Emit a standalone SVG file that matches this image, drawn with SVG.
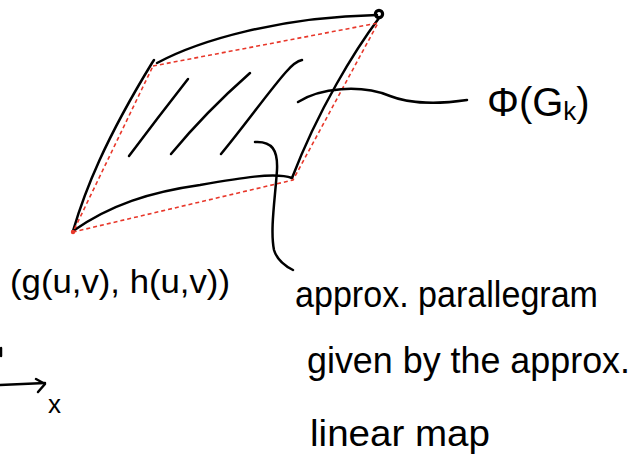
<svg xmlns="http://www.w3.org/2000/svg" width="637" height="459" viewBox="0 0 637 459">
<style>
.ink{fill:none;stroke:#000;stroke-width:2.5;stroke-linecap:round;stroke-linejoin:round}
.red{fill:none;stroke:#e8372a;stroke-width:1.6;stroke-dasharray:4 3}
.lbl{font-family:"Liberation Sans","DejaVu Sans",sans-serif;fill:#000}
</style>
<rect width="637" height="459" fill="#fff"/>
<g id="region">
<path class="ink" d="M157,63 C200,40 280,17 377,15"/>
<path class="ink" d="M379,18 C355,50 318,110 292,178"/>
<path class="ink" d="M73,231 C110,205 150,192 200,185 C240,178 275,172 292,178"/>
<path class="ink" d="M73,231 C85,190 105,140 152,63 L154,60"/>
<path class="ink" d="M129,156 C150,128 170,102 188,79"/>
<path class="ink" d="M171,154 C195,125 225,95 250,73"/>
<path class="ink" d="M221,154 C245,125 270,90 286,72 C292,65 297,61 302,60"/>
<circle cx="379" cy="14" r="3.6" fill="none" stroke="#000" stroke-width="3.2"/>
<circle cx="73" cy="232" r="2.2" fill="#e8372a"/>
</g>
<g id="parallelogram">
<path class="red" d="M153,66 L378,23 L293,180 L73,232 Z"/>
</g>
<g id="connectors">
<path class="ink" d="M298,102 C320,88 360,84 390,96 C410,104 440,104 467,100"/>
<path class="ink" d="M255,142 C272,141 278,150 277,170 C275,200 270,230 274,250 C277,260 285,266 293,270"/>
<path class="ink" d="M0,385 L45,383"/>
<path class="ink" d="M36,379 L45,384 L38,392"/>
<path class="ink" d="M1,348 L1,356"/>
</g>
<g id="label-phi">
<text class="lbl" x="487" y="116" font-size="40">Φ(G<tspan font-size="26" dy="4">k</tspan><tspan dy="-4">)</tspan></text>
</g>
<g id="label-point">
<text class="lbl" x="10" y="293" font-size="34" textLength="220" lengthAdjust="spacingAndGlyphs">(g(u,v), h(u,v))</text>
</g>
<g id="label-axis">
<text class="lbl" x="48" y="413" font-size="26">x</text>
</g>
<g id="label-approx">
<text class="lbl" x="295" y="307" font-size="36" textLength="303" lengthAdjust="spacingAndGlyphs">approx. parallegram</text>
<text class="lbl" x="307" y="373" font-size="36" textLength="323" lengthAdjust="spacingAndGlyphs">given by the approx.</text>
<text class="lbl" x="310" y="446" font-size="36" textLength="180" lengthAdjust="spacingAndGlyphs">linear map</text>
</g>
</svg>
